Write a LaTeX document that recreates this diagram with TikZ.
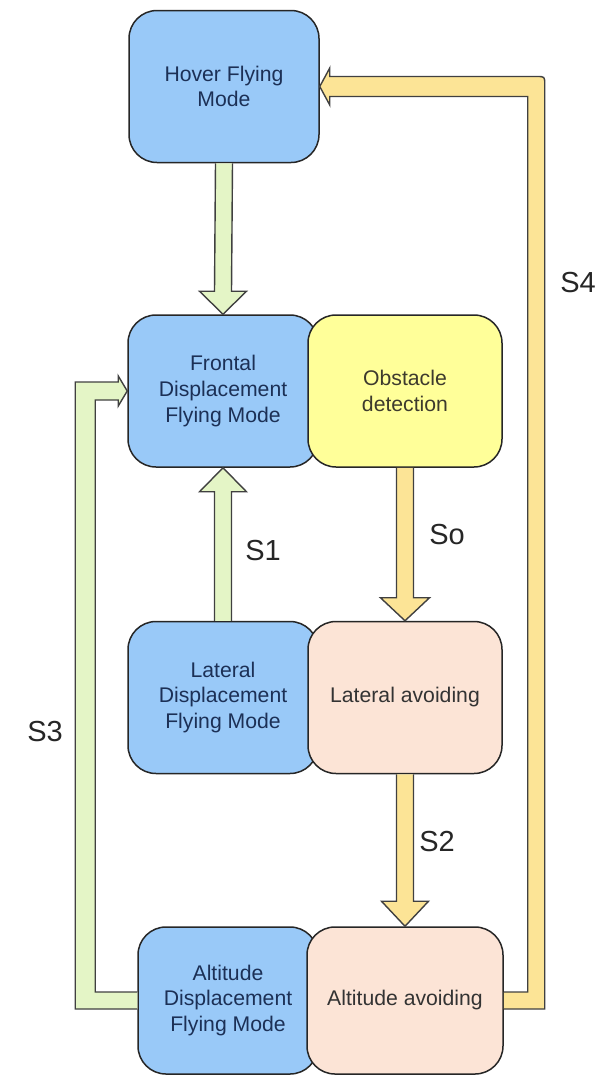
\documentclass[tikz,border=0pt]{standalone}
\usepackage{fontspec}
\setmainfont{Liberation Sans}
\usetikzlibrary{calc}
\definecolor{modeblue}{RGB}{153,201,248}
\definecolor{modetext}{RGB}{28,48,86}
\definecolor{detectyellow}{RGB}{255,255,153}
\definecolor{avoidpink}{RGB}{252,228,214}
\definecolor{greenfill}{RGB}{228,245,198}
\definecolor{yellowfill}{RGB}{252,228,150}
\tikzset{
  box/.style={draw=black!85, line width=0.75pt, rounded corners=14pt, inner sep=0pt,
    minimum width=95pt, minimum height=76pt, align=center, font=\fontsize{10.6}{12.9}\selectfont},
  modebox/.style={box, fill=modeblue, text=modetext},
  detectbox/.style={box, fill=detectyellow, text=black!75!olive, minimum width=97pt},
  avoidbox/.style={box, fill=avoidpink, text=black!80, minimum width=97pt},
  greenarr/.style={draw=black!75, line width=0.7pt, fill=greenfill, line join=miter},
  yellowarr/.style={draw=black!75, line width=0.7pt, fill=yellowfill, line join=miter},
  slabel/.style={font=\fontsize{14.5}{17}\selectfont, text=black!85}
}
\begin{document}
\begin{tikzpicture}[x=0.5pt,y=-0.5pt]
    \useasboundingbox (0,0) rectangle (603,1077);
    % boxes
    \node[modebox] (hover) at (224,86.5) {Hover Flying\\Mode};
    \node[modebox] (frontal) at (223,391) {Frontal\\Displacement\\Flying Mode};
    \node[detectbox] (obstacle) at (405,391) {Obstacle\\detection};
    \node[modebox] (lateral) at (223,697.5) {Lateral\\Displacement\\Flying Mode};
    \node[avoidbox] (latavoid) at (405,697.5) {Lateral avoiding};
    \node[modebox, minimum width=90pt, minimum height=73.5pt] (altdisp) at (228,1000.5) {Altitude\\Displacement\\Flying Mode};
    \node[avoidbox, minimum width=98pt, minimum height=73.5pt] (altavoid) at (405,1000.5) {Altitude avoiding};
    % straight block arrows
    \filldraw[greenarr] ($(hover.south)+(-8.5,0)$) -- ($(frontal.north)+(-8.5,-23)$) -- ($(frontal.north)+(-23.5,-23)$)
      -- (frontal.north) -- ($(frontal.north)+(23.5,-23)$) -- ($(frontal.north)+(8.5,-23)$) -- ($(hover.south)+(8.5,0)$);
    \filldraw[greenarr] ($(lateral.north)+(-8.5,0)$) -- ($(frontal.south)+(-8.5,24)$) -- ($(frontal.south)+(-23.5,24)$)
      -- (frontal.south) -- ($(frontal.south)+(23.5,24)$) -- ($(frontal.south)+(8.5,24)$) -- ($(lateral.north)+(8.5,0)$);
    \filldraw[yellowarr] ($(obstacle.south)+(-8.5,0)$) -- ($(latavoid.north)+(-8.5,-23)$) -- ($(latavoid.north)+(-24.5,-23)$)
      -- (latavoid.north) -- ($(latavoid.north)+(24.5,-23)$) -- ($(latavoid.north)+(8.5,-23)$) -- ($(obstacle.south)+(8.5,0)$);
    \filldraw[yellowarr] ($(latavoid.south)+(-8.5,0)$) -- ($(altavoid.north)+(-8.5,-25)$) -- ($(altavoid.north)+(-23.5,-25)$)
      -- (altavoid.north) -- ($(altavoid.north)+(23.5,-25)$) -- ($(altavoid.north)+(8.5,-25)$) -- ($(latavoid.south)+(8.5,0)$);
    % return paths
    \filldraw[greenarr] ($(altdisp.west)+(0,8.5)$) -| ($(frontal.west)+(-52,-9)$) -- ($(frontal.west)+(-9,-9)$)
      -- ($(frontal.west)+(-9,-15)$) -- (frontal.west) -- ($(frontal.west)+(-9,15)$) -- ($(frontal.west)+(-9,9)$)
      -| ($(altdisp.west)+(-42,-8.5)$) -- ($(altdisp.west)+(0,-8.5)$);
    \filldraw[yellowarr] ($(altavoid.east)+(0,8.5)$) -| ($(hover.east)+(225,-2)$)
      .. controls ($(hover.east)+(225,-10)$) .. ($(hover.east)+(217,-10)$) -- ($(hover.east)+(10,-10)$)
      -- ($(hover.east)+(10,-18.5)$) -- (hover.east) -- ($(hover.east)+(10,18.5)$) -- ($(hover.east)+(10,10)$)
      -| ($(altavoid.east)+(24,-8.5)$) -- ($(altavoid.east)+(0,-8.5)$);
    % labels
    \node[slabel] (s1) at (263,551) {S1};
    \node[slabel] (so) at (447,535) {So};
    \node[slabel] (s2) at (437,842) {S2};
    \node[slabel] (s3) at (45,732) {S3};
    \node[slabel] (s4) at (578,283) {S4};
\end{tikzpicture}
\end{document}
